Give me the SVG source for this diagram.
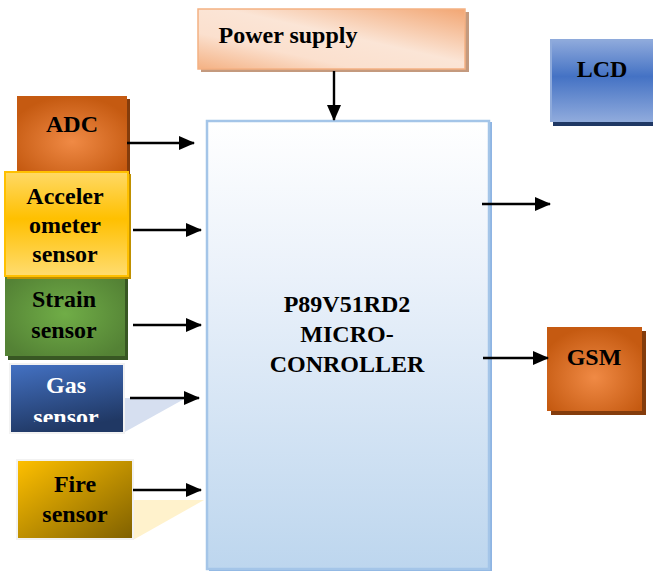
<svg xmlns="http://www.w3.org/2000/svg" width="653" height="572" viewBox="0 0 653 572">
<style>
text{font-family:"Liberation Serif","Times New Roman",serif;font-weight:bold;font-size:24px;text-anchor:middle;fill:#000}
.w{fill:#fff}
.cn line{stroke:#000;stroke-width:2.4}
</style>
<defs>
<marker id="ah" markerWidth="16" markerHeight="14" refX="15" refY="7" orient="auto" markerUnits="userSpaceOnUse">
<path d="M0,0 L16,7 L0,14 Z" fill="#000"/>
</marker>
<linearGradient id="gPow" x1="1" y1="0" x2="0" y2="1">
<stop offset="0" stop-color="#f2a673"/>
<stop offset="0.45" stop-color="#fbe5d6"/>
<stop offset="0.7" stop-color="#fbe0ce"/>
<stop offset="1" stop-color="#f4b183"/>
</linearGradient>
<linearGradient id="gMcu" x1="0" y1="0" x2="0" y2="1">
<stop offset="0" stop-color="#ffffff"/>
<stop offset="0.35" stop-color="#eaf1fa"/>
<stop offset="1" stop-color="#bdd6ee"/>
</linearGradient>
<linearGradient id="gLcd" x1="0" y1="0" x2="0" y2="1">
<stop offset="0" stop-color="#8faadc"/>
<stop offset="0.45" stop-color="#4472c4"/>
<stop offset="1" stop-color="#8faadc"/>
</linearGradient>
<radialGradient id="gOr" cx="0.5" cy="0.6" r="0.6">
<stop offset="0" stop-color="#f08a45"/>
<stop offset="1" stop-color="#c55a11"/>
</radialGradient>
<linearGradient id="gAcc" x1="0" y1="0" x2="0" y2="1">
<stop offset="0" stop-color="#ffd966"/>
<stop offset="0.45" stop-color="#ffc000"/>
<stop offset="1" stop-color="#ffdc70"/>
</linearGradient>
<radialGradient id="gGr" cx="0.5" cy="0.5" r="0.6">
<stop offset="0" stop-color="#70ad47"/>
<stop offset="1" stop-color="#548235"/>
</radialGradient>
<linearGradient id="gGas" x1="0" y1="0" x2="0.3" y2="1">
<stop offset="0" stop-color="#4472c4"/>
<stop offset="1" stop-color="#203864"/>
</linearGradient>
<linearGradient id="gFire" x1="0" y1="0" x2="1" y2="1">
<stop offset="0" stop-color="#ffc000"/>
<stop offset="1" stop-color="#7f6000"/>
</linearGradient>
<clipPath id="cGas"><rect x="10" y="365" width="114" height="57"/></clipPath>
</defs>

<g id="power">
<rect x="201" y="12" width="268" height="60" fill="#c49a7e"/>
<rect x="198" y="9" width="267" height="60" fill="url(#gPow)" stroke="#f4b183" stroke-width="1.5"/>
<text x="288" y="43">Power supply</text>
</g>

<g id="mcu">
<rect x="209" y="122" width="283" height="449" fill="#8eb4e3"/>
<rect x="207" y="121" width="282" height="448" fill="url(#gMcu)" stroke="#a4c5e8" stroke-width="2.5"/>
<text x="347" y="312">P89V51RD2</text>
<text x="347" y="342">MICRO-</text>
<text x="347" y="372">CONROLLER</text>
</g>

<g id="lcd">
<rect x="553" y="44" width="102" height="82" fill="#1f3864"/>
<rect x="551" y="40" width="104" height="81" fill="url(#gLcd)" stroke="#8eaadb" stroke-width="2"/>
<text x="602" y="77">LCD</text>
</g>

<g id="gsm">
<rect x="551" y="331" width="95" height="84" fill="#843c0c"/>
<rect x="547" y="327" width="95" height="84" fill="url(#gOr)"/>
<text x="594" y="365">GSM</text>
</g>

<g id="adc">
<rect x="20" y="99" width="110" height="75" fill="#843c0c"/>
<rect x="17" y="96" width="110" height="76" fill="url(#gOr)"/>
<text x="72" y="132">ADC</text>
</g>

<g id="gas">
<polygon points="123,398 186,398 123,433" fill="#d6dff0"/>
<rect x="10" y="364" width="114" height="69" fill="url(#gGas)" stroke="#f2f2f2" stroke-width="2"/>
<text class="w" x="66" y="393">Gas</text>
<text class="w" x="66" y="425" clip-path="url(#cGas)">sensor</text>
</g>

<g id="strain">
<rect x="8" y="276" width="120" height="84" fill="#385723"/>
<rect x="5" y="272" width="120" height="84" fill="url(#gGr)"/>
<text x="64" y="307">Strain</text>
<text x="64" y="338">sensor</text>
</g>

<g id="accel">
<rect x="7" y="174" width="124" height="105" fill="#bf9000"/>
<rect x="5" y="172" width="123" height="104" fill="url(#gAcc)" stroke="#ffc000" stroke-width="2"/>
<text x="65" y="204">Acceler</text>
<text x="65" y="233">ometer</text>
<text x="65" y="262">sensor</text>
</g>

<g id="fire">
<polygon points="133,500 204,500 133,540" fill="#fff2cc"/>
<rect x="17" y="460" width="116" height="79" fill="url(#gFire)" stroke="#f2f2f2" stroke-width="2"/>
<text x="75" y="492">Fire</text>
<text x="75" y="522">sensor</text>
</g>

<g id="connectors" class="cn">
<line x1="334" y1="71" x2="334" y2="120" marker-end="url(#ah)"/>
<line x1="127" y1="143" x2="194" y2="143" marker-end="url(#ah)"/>
<line x1="133" y1="230" x2="201" y2="230" marker-end="url(#ah)"/>
<line x1="133" y1="325" x2="201" y2="325" marker-end="url(#ah)"/>
<line x1="130" y1="398" x2="199" y2="398" marker-end="url(#ah)"/>
<line x1="133" y1="490" x2="201" y2="490" marker-end="url(#ah)"/>
<line x1="482" y1="204" x2="550" y2="204" marker-end="url(#ah)"/>
<line x1="483" y1="358" x2="548" y2="358" marker-end="url(#ah)"/>
</g>
</svg>
